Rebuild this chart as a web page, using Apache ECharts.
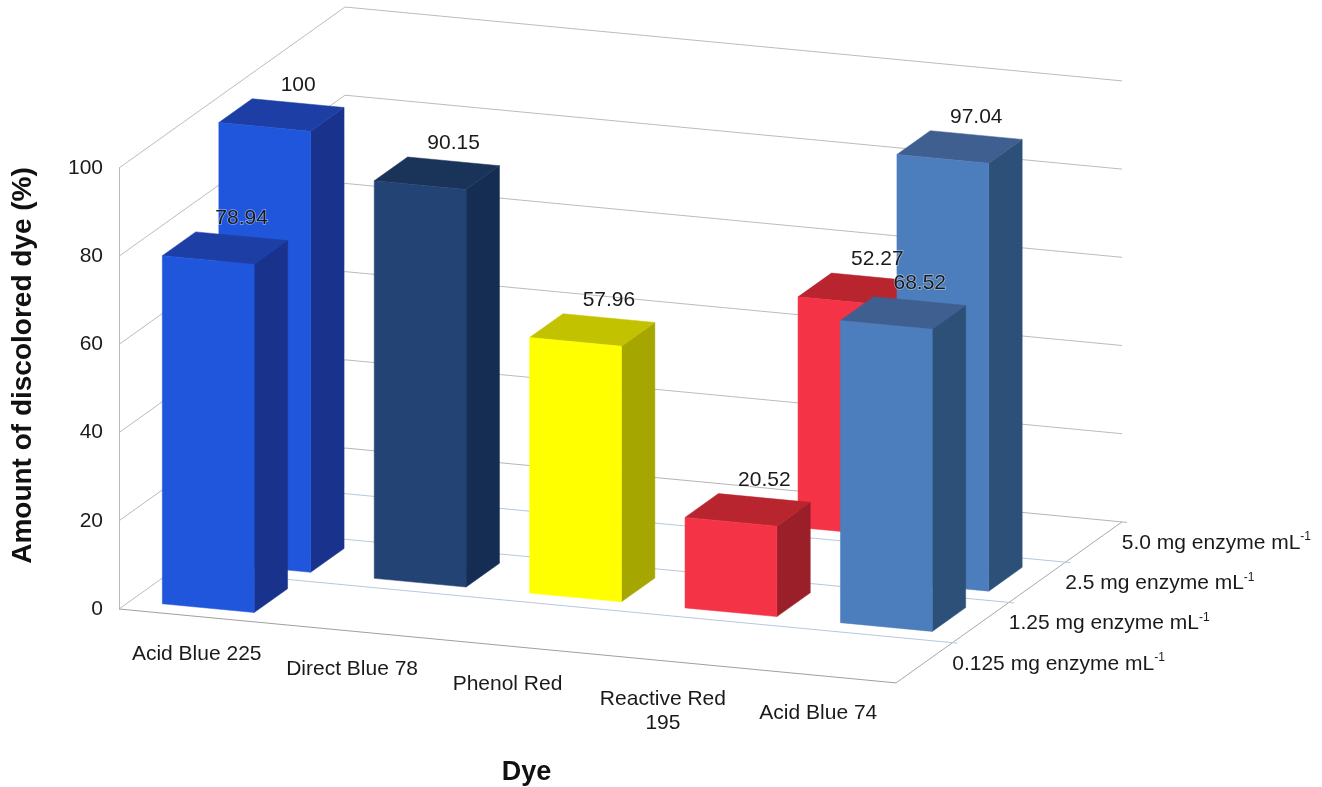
<!DOCTYPE html>
<html><head><meta charset="utf-8">
<style>html,body{margin:0;padding:0;background:#fff}#c{width:1322px;height:787px}</style>
<script src="https://cdn.jsdelivr.net/npm/echarts@6/dist/echarts.min.js"></script>
</head><body><div id="c"></div>
<script>
// ---- data ----
const categories = ['Acid Blue 225', 'Direct Blue 78', 'Phenol Red', 'Reactive Red\n195', 'Acid Blue 74'];
const doseLabels = ['0.125 mg enzyme mL', '1.25 mg enzyme mL', '2.5 mg enzyme mL', '5.0 mg enzyme mL'];
const dose0125 = [78.94, null, null, null, null];
const dose125 = [100, 90.15, 57.96, 20.52, 68.52];
const dose25 = [null, null, null, null, 97.04];
const dose50 = [null, null, null, 52.27, null];
const yTicks = [0, 20, 40, 60, 80, 100];
// ---- style ----
const frontColors = ['#1f56dc', '#234374', '#ffff00', '#f53347', '#4c7dbd'];
const sideColors = ['#19338d', '#152d52', '#a6a600', '#9a1f28', '#2d5078'];
const topColors = ['#1d3fa5', '#1a3359', '#c2c200', '#b8252f', '#3e5f8f'];
const FONT = '"Liberation Sans", Arial, sans-serif';
const GL = 119, GW = 777, GT = 168, GH = 441;
const SHEAR = 74 / 778, DDX = 56.5, DDY = 40.25, BARF = 0.591;

function project(api, cat, off, depth, value) {
  const b = api.coord([cat, value]);
  const bw = api.size([1, 0])[0];
  const x = b[0] + off * bw;
  const y = b[1] + (x - GL) * SHEAR;
  return [x + depth * DDX, y - depth * DDY];
}
function line(p, q, color, w) {
  return { type: 'line', shape: { x1: p[0], y1: p[1], x2: q[0], y2: q[1] }, style: { stroke: color, lineWidth: w || 1, fill: null } };
}
function poly(pts, fill) {
  return { type: 'polygon', shape: { points: pts }, style: { fill: fill, stroke: fill, lineWidth: 0.5 } };
}
function pairs(arr) {
  const out = [];
  arr.forEach((v, i) => { if (v !== null) out.push([i, v]); });
  return out;
}
function barSeries(values, depth) {
  return {
    type: 'custom', coordinateSystem: 'cartesian2d', clip: false, silent: true, z: 10,
    data: pairs(values), encode: { x: 0, y: 1 },
    renderItem: function (params, api) {
      const c = api.value(0), v = api.value(1), h = BARF / 2;
      const d0 = depth + 0.5 - h, d1 = depth + 0.5 + h;
      const P = (o, d, val) => project(api, c, o, d, val);
      return { type: 'group', children: [
        poly([P(h, d0, 0), P(h, d1, 0), P(h, d1, v), P(h, d0, v)], sideColors[c]),
        poly([P(-h, d0, v), P(h, d0, v), P(h, d1, v), P(-h, d1, v)], topColors[c]),
        poly([P(-h, d0, 0), P(h, d0, 0), P(h, d0, v), P(-h, d0, v)], frontColors[c])
      ] };
    }
  };
}
function valueLabelSeries(values, depth) {
  return {
    type: 'custom', coordinateSystem: 'cartesian2d', clip: false, silent: true, z: 30,
    data: pairs(values), encode: { x: 0, y: 1 },
    renderItem: function (params, api) {
      const c = api.value(0), v = api.value(1);
      const p = project(api, c, 0, depth + 0.5 + BARF / 2, v);
      return { type: 'text', style: { x: p[0], y: p[1] - 18, text: String(v), align: 'center', verticalAlign: 'middle',
        font: '21px ' + FONT, fill: '#1a1a1a', stroke: 'rgba(255,255,255,0.45)', lineWidth: 1.5 } };
    }
  };
}
const wallSeries = {
  type: 'custom', coordinateSystem: 'cartesian2d', clip: false, silent: true, z: 1,
  data: yTicks.map(t => [0, t]), encode: { x: 0, y: 1 },
  renderItem: function (params, api) {
    const v = api.value(1), color = '#bcbcbc';
    const kids = [line(project(api, 0, -0.5, 0, v), project(api, 0, -0.5, 4, v), color)];
    if (v !== 0) kids.push(line(project(api, 0, -0.5, 4, v), project(api, categories.length - 1, 0.5, 4, v), color));
    return { type: 'group', children: kids };
  }
};
const floorSeries = {
  type: 'custom', coordinateSystem: 'cartesian2d', clip: false, silent: true, z: 2,
  data: [0, 1, 2, 3, 4].map(d => [0, 0, d]), encode: { x: 0, y: 1 },
  renderItem: function (params, api) {
    const d = api.value(2), last = categories.length - 1;
    const q = project(api, last, 0.5, d, 0);
    const end = d === 0 ? q : [q[0] + 5, q[1] + 0.5];
    const kids = [line(project(api, 0, -0.5, d, 0), end, d === 0 ? '#a0a0a0' : (d === 4 ? '#b5b5b5' : '#b7c8dc'))];
    if (d === 0) kids.push(line(q, project(api, last, 0.5, 4, 0), '#a9a9a9'));
    return { type: 'group', children: kids };
  }
};
const categoryLabelSeries = {
  type: 'custom', coordinateSystem: 'cartesian2d', clip: false, silent: true, z: 30,
  data: categories.map((n, i) => [i, 0]), encode: { x: 0, y: 1 },
  renderItem: function (params, api) {
    const i = api.value(0), p = project(api, i, 0, 0, 0);
    return { type: 'text', style: { x: p[0], y: p[1] + 26, text: categories[i], align: 'center', verticalAlign: 'top',
      font: '21px ' + FONT, fill: '#1a1a1a', lineHeight: 24 } };
  }
};
const doseLabelSeries = {
  type: 'custom', coordinateSystem: 'cartesian2d', clip: false, silent: true, z: 30,
  data: doseLabels.map((n, i) => [categories.length - 1, 0, i]), encode: { x: 0, y: 1 },
  renderItem: function (params, api) {
    const i = api.value(2), p = project(api, categories.length - 1, 0.5, i + 0.5, 0);
    return { type: 'text', style: { x: p[0] + 28, y: p[1] + 1, align: 'left', verticalAlign: 'middle',
      text: '{a|' + doseLabels[i] + '}{s|-1}',
      rich: { a: { font: '21px ' + FONT, fill: '#1a1a1a', lineHeight: 24 },
              s: { font: '12px ' + FONT, fill: '#1a1a1a', verticalAlign: 'top', lineHeight: 24 } } } };
  }
};

const chart = echarts.init(document.getElementById('c'), null, { renderer: 'canvas' });
chart.setOption({
  animation: false,
  backgroundColor: '#ffffff',
  grid: { left: GL, top: GT, width: GW, height: GH, containLabel: false, outerBoundsMode: 'none' },
  xAxis: {
    type: 'category', data: categories,
    axisLine: { show: false }, axisTick: { show: false }, axisLabel: { show: false }, splitLine: { show: false },
    name: 'Dye', nameLocation: 'middle', nameGap: 150,
    nameTextStyle: { fontFamily: FONT, fontSize: 27, fontWeight: 'bold', color: '#111', padding: [0, 0, 0, 38] }
  },
  yAxis: {
    type: 'value', min: 0, max: 100, interval: 20,
    axisLine: { show: true, lineStyle: { color: '#bcbcbc', width: 1 } }, axisTick: { show: false }, splitLine: { show: false },
    axisLabel: { fontFamily: FONT, fontSize: 21, color: '#1a1a1a', margin: 16 },
    name: 'Amount of discolored dye (%)', nameLocation: 'middle', nameGap: 82,
    nameTextStyle: { fontFamily: FONT, fontSize: 28, fontWeight: 'bold', color: '#111', padding: [0, 0, 0, 46] }
  },
  series: [
    wallSeries, floorSeries,
    barSeries(dose50, 3), barSeries(dose25, 2), barSeries(dose125, 1), barSeries(dose0125, 0),
    valueLabelSeries(dose50, 3), valueLabelSeries(dose25, 2), valueLabelSeries(dose125, 1), valueLabelSeries(dose0125, 0),
    categoryLabelSeries, doseLabelSeries
  ]
});
</script></body></html>
